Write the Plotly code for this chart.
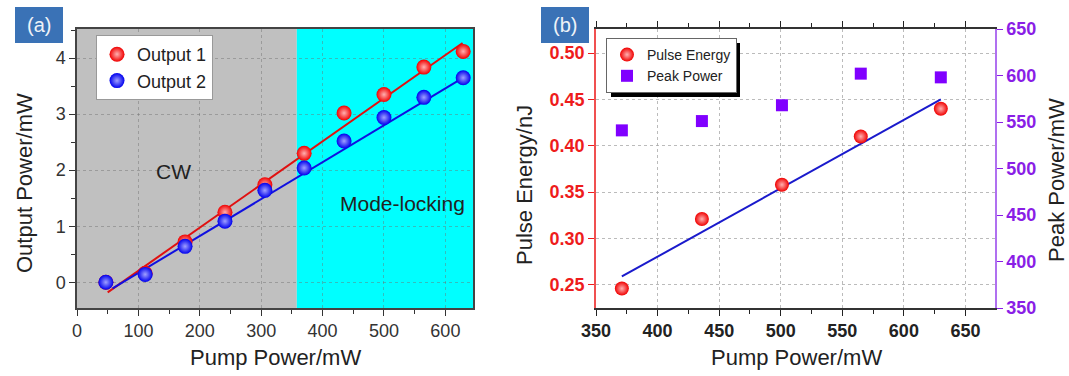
import plotly.graph_objects as go

# ---------------- data (panel a) ----------------
pump_a = [47, 111, 176, 241, 306, 370, 435, 500, 565, 629]
output1 = [0.0, 0.16, 0.72, 1.25, 1.74, 2.30, 3.02, 3.35, 3.84, 4.12]
output2 = [0.0, 0.14, 0.64, 1.09, 1.64, 2.04, 2.52, 2.94, 3.30, 3.65]
fit1_x = [50, 628]
fit1_y = [-0.18, 4.27]
fit2_x = [58, 638]
fit2_y = [-0.11, 3.71]
cw_range = [0, 358]
ml_range = [358, 645]

# ---------------- data (panel b) ----------------
pump_b = [371, 436, 501, 565, 630]
pulse_energy = [0.246, 0.321, 0.358, 0.410, 0.440]
peak_power = [541, 551, 568, 602, 598]
fitb_x = [371, 630]
fitb_y = [0.259, 0.450]

W, H = 1069, 376
FONT = "Arial, 'Liberation Sans', sans-serif"
RED = "#ee1c1c"
PURPLE = "#8a1ee6"

def px(x):
    return x / W

def py(y):
    return 1 - y / H

fig = go.Figure()

# panel a traces
fig.add_trace(go.Scatter(x=fit1_x, y=fit1_y, mode="lines", line=dict(color="#e01010", width=2),
                         showlegend=False, xaxis="x", yaxis="y", hoverinfo="skip"))
fig.add_trace(go.Scatter(x=fit2_x, y=fit2_y, mode="lines", line=dict(color="#1010e0", width=2),
                         showlegend=False, xaxis="x", yaxis="y", hoverinfo="skip"))
fig.add_trace(go.Scatter(x=pump_a, y=output1, mode="markers", name="Output 1",
                         marker=dict(size=15, color="#f00000", line=dict(width=0),
                                     gradient=dict(type="radial", color="#ffb0b0")),
                         xaxis="x", yaxis="y", legend="legend"))
fig.add_trace(go.Scatter(x=pump_a, y=output2, mode="markers", name="Output 2",
                         marker=dict(size=15, color="#0000ee", line=dict(width=0),
                                     gradient=dict(type="radial", color="#a0a0ff")),
                         xaxis="x", yaxis="y", legend="legend"))

# panel b traces
fig.add_trace(go.Scatter(x=fitb_x, y=fitb_y, mode="lines", line=dict(color="#1a1acc", width=2),
                         showlegend=False, xaxis="x2", yaxis="y2", hoverinfo="skip"))
fig.add_trace(go.Scatter(x=pump_b, y=pulse_energy, mode="markers", name="Pulse Energy",
                         marker=dict(size=14, color="#f00000", line=dict(width=0),
                                     gradient=dict(type="radial", color="#ffb0b0")),
                         xaxis="x2", yaxis="y2", legend="legend2"))
fig.add_trace(go.Scatter(x=pump_b, y=peak_power, mode="markers", name="Peak Power",
                         marker=dict(size=12, color="#8000ff", symbol="square", line=dict(width=0)),
                         xaxis="x2", yaxis="y3", legend="legend2"))

dom_a = [px(77), px(473)]
dom_b = [px(596), px(995)]
dom_y = [py(308), py(29)]

grid_a = dict(showgrid=True, gridcolor="rgba(110,110,110,0.45)", griddash="dot", gridwidth=1)
grid_b = dict(showgrid=True, gridcolor="rgba(170,170,170,0.8)", griddash="dot", gridwidth=1)

fig.update_layout(
    width=W, height=H,
    margin=dict(l=0, r=0, t=0, b=0, autoexpand=False),
    paper_bgcolor="white",
    plot_bgcolor="white",
    font=dict(family=FONT, color="#333333"),
    xaxis=dict(domain=dom_a, anchor="y", range=[0, 645], dtick=100, tick0=0, automargin=False,
               ticks="outside", ticklen=6, tickcolor="#333", showline=True, linecolor="#444",
               linewidth=1.5, mirror=True, zeroline=False,
               tickfont=dict(size=18, color="#333"),
               minor=dict(dtick=50, ticks="outside", ticklen=4, tickcolor="#333", showgrid=False),
               **grid_a),
    yaxis=dict(domain=dom_y, anchor="x", range=[-0.46, 4.52], dtick=1, tick0=0, automargin=False,
               ticks="outside", ticklen=6, tickcolor="#333", showline=True, linecolor="#444",
               linewidth=1.5, mirror=True, zeroline=False,
               tickfont=dict(size=18, color="#333"),
               minor=dict(dtick=0.5, ticks="outside", ticklen=4, tickcolor="#333", showgrid=False),
               **grid_a),
    xaxis2=dict(domain=dom_b, anchor="y2", range=[350, 674], dtick=50, tick0=350, automargin=False,
                ticks="outside", ticklen=6, tickcolor="#222", showline=True, linecolor="#333",
                linewidth=1.5, mirror="ticks", zeroline=False,
                tickfont=dict(size=18, color="#222", weight="bold"),
                minor=dict(dtick=25, ticks="outside", ticklen=4, tickcolor="#222", showgrid=False),
                **grid_b),
    yaxis2=dict(domain=dom_y, anchor="x2", range=[0.225, 0.526], dtick=0.05, tick0=0.25,
                tickformat=".2f", automargin=False,
                ticks="outside", ticklen=6, tickcolor=RED, showline=True, linecolor="#f05050",
                linewidth=1.5, zeroline=False,
                tickfont=dict(size=18, color=RED, weight="bold"),
                **grid_b),
    yaxis3=dict(overlaying="y2", anchor="x2", side="right", range=[350, 650], dtick=50,
                automargin=False,
                ticks="outside", ticklen=6, tickcolor=PURPLE, showline=True, linecolor="#b070f0",
                linewidth=1.5, zeroline=False, showgrid=False,
                tickfont=dict(size=18, color=PURPLE, weight="bold")),
    legend=dict(x=px(96), y=py(35), xanchor="left", yanchor="top",
                bgcolor="white", bordercolor="#999", borderwidth=1,
                font=dict(size=18, color="#222"), tracegroupgap=0, itemwidth=30),
    legend2=dict(x=px(606), y=py(38), xanchor="left", yanchor="top",
                 bgcolor="white", bordercolor="#666", borderwidth=1,
                 font=dict(size=14, color="#222"), tracegroupgap=0, itemwidth=30),
    showlegend=True,
)

shapes = [
    dict(type="rect", xref="x", yref="y domain", x0=cw_range[0], x1=cw_range[1], y0=0, y1=1,
         fillcolor="#c0c0c0", line=dict(width=0), layer="below"),
    dict(type="rect", xref="x", yref="y domain", x0=ml_range[0], x1=ml_range[1], y0=0, y1=1,
         fillcolor="#00ffff", line=dict(width=0), layer="below"),
    # panel labels
    dict(type="rect", xref="paper", yref="paper", x0=px(15), x1=px(63), y0=py(43), y1=py(7),
         fillcolor="#3a72b6", line=dict(width=0), layer="above"),
    dict(type="rect", xref="paper", yref="paper", x0=px(541), x1=px(589), y0=py(43), y1=py(7),
         fillcolor="#3a72b6", line=dict(width=0), layer="above"),
    # legend shadow for panel b
    dict(type="rect", xref="paper", yref="paper", x0=px(611), x1=px(740), y0=py(97), y1=py(43),
         fillcolor="black", line=dict(width=0), layer="above"),
]
fig.update_layout(shapes=shapes)

C = dict(xref="paper", yref="paper", showarrow=False, xanchor="center", yanchor="middle")
ann = [
    dict(text="(a)", x=px(39), y=py(25), font=dict(size=20, color="#eef2f8"), **C),
    dict(text="(b)", x=px(565), y=py(25), font=dict(size=20, color="#eef2f8"), **C),
    dict(text="CW", x=px(173), y=py(172), font=dict(size=21, color="#222"), **C),
    dict(text="Mode-locking", x=px(402), y=py(204), font=dict(size=21, color="#222"), **C),
    dict(text="Output Power/mW", x=px(24), y=py(183), textangle=-90,
         font=dict(size=22, color="#222"), **C),
    dict(text="Pump Power/mW", x=px(275), y=py(357), font=dict(size=22, color="#222"), **C),
    dict(text="Pulse Energy/nJ", x=px(524), y=py(185), textangle=-90,
         font=dict(size=22, color="#222"), **C),
    dict(text="Peak Power/mW", x=px(1056), y=py(180), textangle=-90,
         font=dict(size=22, color="#222"), **C),
    dict(text="Pump Power/mW", x=px(796), y=py(357), font=dict(size=22, color="#222"), **C),
]
fig.update_layout(annotations=ann)

fig.write_html("out.html", config={"displayModeBar": False},
               post_script="document.body.style.margin='0';document.body.style.overflow='hidden';")
